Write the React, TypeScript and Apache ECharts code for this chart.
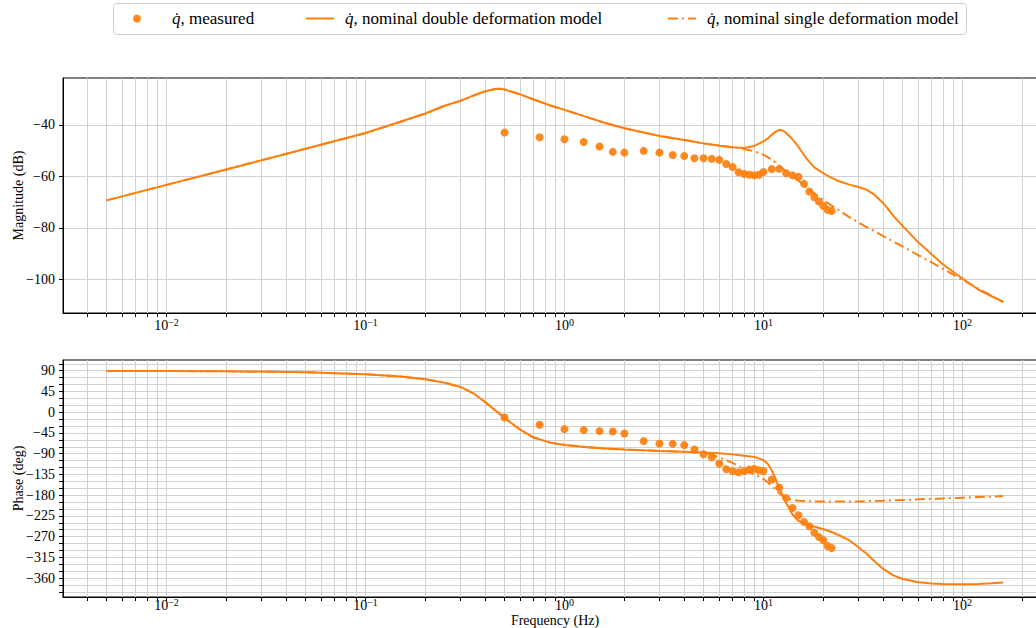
import React, { useEffect, useRef } from 'react';
import * as echarts from 'echarts';

// ---------- data ----------
const measuredFreq = [0.5, 0.75, 1, 1.25, 1.5, 1.75, 2, 2.5, 3, 3.5, 4, 4.5, 5, 5.5, 6, 6.5, 7, 7.5, 8, 8.5, 9, 9.5, 10, 11, 12, 13, 14, 15, 16, 17, 18, 19, 20, 21, 22];
const measuredMag = [-43.0, -44.8, -45.6, -46.7, -48.4, -50.5, -50.8, -50.1, -50.8, -51.7, -52.1, -53.0, -53.0, -53.2, -53.6, -55.2, -56.4, -58.4, -59.1, -59.4, -59.6, -59.4, -58.3, -57.2, -57.1, -58.8, -59.6, -60.2, -62.9, -65.9, -68.1, -69.8, -71.5, -73.0, -73.4];
const measuredPhase = [-11.3, -27.4, -36.7, -38.9, -41.1, -41.8, -46.1, -62.8, -67.8, -68.7, -71.5, -80.9, -91.1, -97.6, -111.3, -123.7, -127.4, -130.2, -127.4, -124.3, -123.0, -125.9, -127.4, -146.1, -163.5, -186.1, -207.8, -223.7, -238.3, -247.6, -261.3, -270.9, -278.0, -290.4, -294.8];

const modelFreq = [0.005, 0.01, 0.02, 0.05, 0.1, 0.15, 0.2, 0.25, 0.3, 0.35, 0.4, 0.45, 0.47, 0.5, 0.6, 0.7, 0.85, 1, 1.3, 1.6, 2, 2.5, 3, 4, 5, 6, 7, 8, 9, 10, 10.5, 11, 11.5, 12, 12.5, 13, 14, 15, 16.5, 18, 20, 22, 24, 27, 30, 33, 36, 40, 45, 50, 60, 70, 80, 100, 120, 140, 160];
const doubleMag = [-69.3, -63.3, -57.3, -49.3, -43.2, -38.8, -35.6, -32.6, -30.7, -28.6, -27.0, -26.1, -26.0, -26.3, -28.2, -30.2, -32.5, -34.2, -37.0, -39.3, -41.3, -43.0, -44.3, -45.9, -47.2, -48.1, -48.7, -49.0, -48.2, -46.4, -45.3, -43.9, -42.7, -42.0, -42.2, -43.2, -45.6, -48.6, -53.2, -56.5, -58.8, -60.6, -61.9, -63.2, -64.1, -65.2, -67.0, -70.4, -75.3, -79.2, -85.6, -90.2, -94.2, -99.6, -103.9, -106.5, -108.6];
const singleMag = [-69.3, -63.3, -57.3, -49.3, -43.2, -38.8, -35.6, -32.6, -30.7, -28.6, -27.0, -26.1, -26.0, -26.3, -28.2, -30.2, -32.5, -34.2, -37.0, -39.3, -41.3, -43.0, -44.3, -45.9, -47.2, -48.1, -48.7, -49.4, -50.3, -51.6, -52.5, -53.5, -54.6, -55.9, -57.0, -58.0, -59.9, -61.7, -64.3, -66.6, -69.2, -71.3, -73.2, -75.8, -77.9, -79.7, -81.2, -83.2, -85.3, -87.2, -90.6, -93.4, -95.9, -100.1, -103.5, -106.3, -108.8];
const doublePhase = [89.7, 89.4, 88.8, 86.8, 82.5, 77.5, 71.5, 64.0, 54.8, 40.5, 21.5, 3.7, -2.9, -12.5, -38, -55, -66, -71, -76, -78.8, -81, -82.8, -84, -85.8, -87.2, -89, -91.5, -94.5, -97, -104, -112, -126, -144, -165, -181, -197, -222, -236, -243, -248, -254, -260, -267, -278, -293, -307, -323, -340, -354, -362, -369, -371.5, -372.8, -373.5, -372.6, -371, -369.5];
const singlePhase = [89.7, 89.4, 88.8, 86.8, 82.5, 77.5, 71.5, 64.0, 54.8, 40.5, 21.5, 3.7, -2.9, -12.5, -38, -55, -66, -71, -76, -78.8, -81, -82.8, -84, -85.8, -87.2, -98, -110, -124, -135, -145, -152, -160, -168, -176, -182, -186.5, -190.5, -192, -193, -193.5, -193.8, -194, -194, -193.8, -193.5, -193, -192.5, -192, -191, -190.5, -189, -188, -187, -185.5, -184, -183, -182];

const xMajorTicks = [0.01, 0.1, 1, 10, 100];
const magTicks = [-100, -80, -60, -40];
const phaseTicks = [90, 45, 0, -45, -90, -135, -180, -225, -270, -315, -360];

const seriesNames = ['q\u0307, measured', 'q\u0307, nominal double deformation model', 'q\u0307, nominal single deformation model'];

// ---------- styling ----------
const FONT = "'Liberation Serif', 'DejaVu Serif', serif";
const ORANGE = '#ff7f0e';
const GRID_COLOR = '#d2d2d2';
const X_MIN = 0.00302;
const X_MAX = 266;
const MAG_MIN = -113.0;
const MAG_MAX = -21.84;
const PH_MIN = -401;
const PH_MAX = 113.3;

const xAllTicks: number[] = [];
for (let k = -3; k <= 2; k++) {
  for (let m = 1; m <= 9; m++) {
    const v = Number((m * Math.pow(10, k)).toPrecision(3));
    if (v >= X_MIN && v <= X_MAX) xAllTicks.push(v);
  }
}
const phaseMinorTicks: number[] = [];
for (let v = -390; v <= 105; v += 15) phaseMinorTicks.push(v);

const zip = (xs: number[], ys: number[]) => xs.map((x, i) => [x, ys[i]]);
const minus = (v: number) => String(v).replace('-', '\u2212');
const pow10 = (v: number) => {
  const e = Math.round(Math.log10(v));
  return `{b|10}{s|${e < 0 ? '\u2212' + -e : e}}`;
};

function xAxis(gridIndex: number, withName: boolean) {
  return {
    type: 'log',
    logBase: 10,
    gridIndex,
    min: X_MIN,
    max: X_MAX,
    axisLine: { show: true, onZero: false, lineStyle: { color: '#000', width: 1 } },
    axisTick: { show: true, customValues: xAllTicks, length: 4, lineStyle: { color: '#000' } },
    axisLabel: {
      customValues: xMajorTicks,
      formatter: pow10,
      margin: withName ? 2 : 6,
      color: '#000',
      rich: {
        b: { fontFamily: FONT, fontSize: 14, lineHeight: 13, color: '#000' },
        s: { fontFamily: FONT, fontSize: 10, lineHeight: 10, color: '#000', padding: [0, 0, 7, 0] },
      },
    },
    splitLine: { show: true, lineStyle: { color: GRID_COLOR, width: 1 } },
    ...(withName
      ? {
          name: 'Frequency (Hz)',
          nameLocation: 'middle',
          nameGap: 17,
          nameMoveOverlap: false,
          nameTextStyle: { fontFamily: FONT, fontSize: 14, lineHeight: 12, color: '#000' },
        }
      : {}),
  };
}

function yAxis(gridIndex: number, min: number, max: number, labels: number[], ticks: number[], name: string) {
  return {
    type: 'value',
    gridIndex,
    min,
    max,
    name,
    nameLocation: 'middle',
    nameGap: 38,
    nameMoveOverlap: false,
    nameTextStyle: { fontFamily: FONT, fontSize: 14, color: '#000' },
    axisLine: { show: true, onZero: false, lineStyle: { color: '#000', width: 1 } },
    axisTick: { show: true, customValues: ticks, length: 4, lineStyle: { color: '#000' } },
    axisLabel: {
      customValues: labels,
      formatter: minus,
      margin: 8,
      color: '#000',
      fontFamily: FONT,
      fontSize: 14,
    },
    splitLine: { show: true, lineStyle: { color: GRID_COLOR, width: 1 } },
  };
}

function seriesFor(axisIndex: number, measured: number[], dbl: number[], sgl: number[]) {
  return [
    {
      type: 'scatter',
      name: seriesNames[0],
      xAxisIndex: axisIndex,
      yAxisIndex: axisIndex,
      data: zip(measuredFreq, measured),
      symbol: 'circle',
      symbolSize: 8,
      itemStyle: { color: ORANGE, opacity: 0.92 },
      z: 3,
    },
    {
      type: 'line',
      name: seriesNames[1],
      xAxisIndex: axisIndex,
      yAxisIndex: axisIndex,
      data: zip(modelFreq, dbl),
      symbol: 'none',
      smooth: false,
      lineStyle: { color: ORANGE, width: 2 },
      itemStyle: { color: ORANGE },
      z: 4,
    },
    {
      type: 'line',
      name: seriesNames[2],
      xAxisIndex: axisIndex,
      yAxisIndex: axisIndex,
      data: zip(modelFreq, sgl),
      symbol: 'none',
      smooth: false,
      lineStyle: { color: ORANGE, width: 2, type: [10, 4, 2, 4] },
      itemStyle: { color: ORANGE },
      z: 4,
    },
  ];
}

const LINE_ICON = 'path://M0,0h28v2h-28z';
const DASHDOT_ICON = 'path://M0,0h10v2h-10zM14,0h2v2h-2zM20,0h8v2h-8z';

function legendAt(left: number, name: string, icon: string, textPad: number) {
  return {
    data: [{ name, icon }],
    left,
    top: 10,
    padding: 0,
    itemWidth: 28,
    itemHeight: 8,
    itemStyle: { color: ORANGE },
    formatter: (n: string) => `{i|q\u0307}{r|${n.slice(2)}}`,
    textStyle: {
      fontFamily: FONT,
      fontSize: 17,
      color: '#000',
      padding: [0, 0, 0, textPad],
      rich: {
        i: { fontFamily: FONT, fontSize: 17, fontStyle: 'italic', color: '#000' },
        r: { fontFamily: FONT, fontSize: 17, color: '#000' },
      },
    },
  };
}

const gridBase = {
  left: 63,
  width: 984,
  show: true,
  borderColor: '#000',
  borderWidth: 1,
  backgroundColor: 'transparent',
  containLabel: false,
  outerBoundsMode: 'none',
};

export default function App() {
  const ref = useRef<HTMLDivElement | null>(null);
  useEffect(() => {
    if (!ref.current) return;
    const chart = echarts.init(ref.current, undefined, { renderer: 'svg' });
    chart.setOption({
      animation: false,
      backgroundColor: '#ffffff',
      textStyle: { fontFamily: FONT },
      graphic: [
        {
          type: 'rect',
          z: 0,
          shape: { x: 113.5, y: 3.5, width: 853, height: 31, r: 3 },
          style: { fill: '#ffffff', stroke: '#cfcfcf', lineWidth: 1 },
        },
      ],
      legend: [
        legendAt(133, seriesNames[0], 'circle', 16),
        legendAt(306, seriesNames[1], LINE_ICON, 6),
        legendAt(668, seriesNames[2], DASHDOT_ICON, 6),
      ],
      grid: [
        { ...gridBase, top: 78, height: 235 },
        { ...gridBase, top: 360, height: 237 },
      ],
      xAxis: [xAxis(0, false), xAxis(1, true)],
      yAxis: [
        yAxis(0, MAG_MIN, MAG_MAX, magTicks, magTicks, 'Magnitude (dB)'),
        yAxis(1, PH_MIN, PH_MAX, phaseTicks, phaseMinorTicks, 'Phase (deg)'),
      ],
      series: [
        ...seriesFor(0, measuredMag, doubleMag, singleMag),
        ...seriesFor(1, measuredPhase, doublePhase, singlePhase),
      ],
    });
    return () => chart.dispose();
  }, []);
  return (
    <div
      ref={ref}
      style={{ position: 'fixed', left: 0, top: 0, width: 1036, height: 628, background: '#fff' }}
    />
  );
}
